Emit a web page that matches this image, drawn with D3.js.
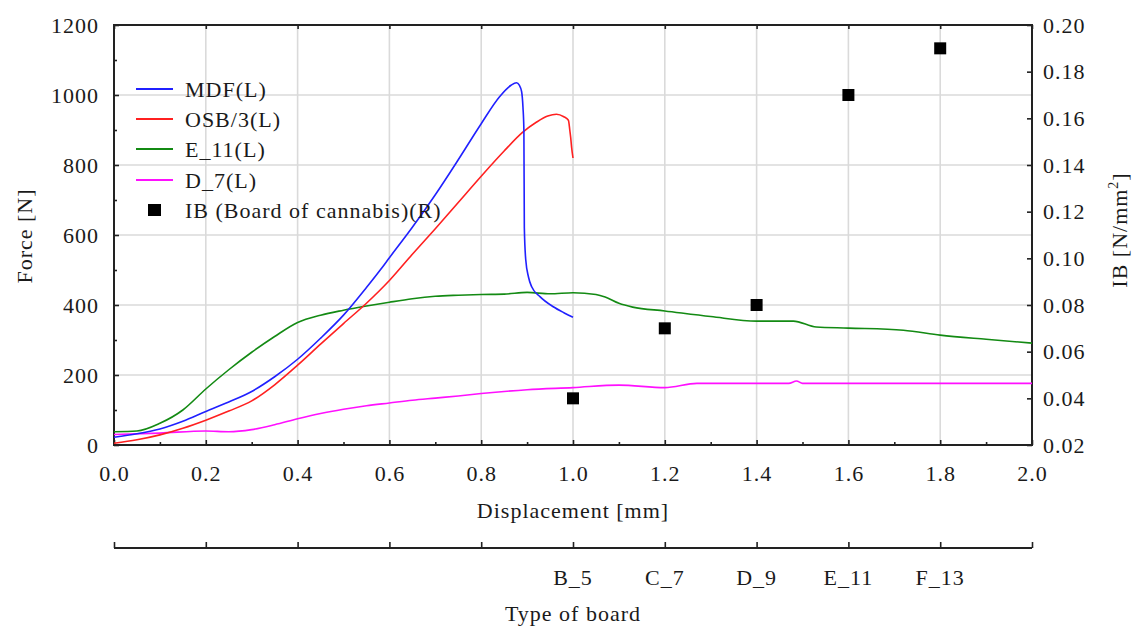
<!DOCTYPE html>
<html>
<head>
<meta charset="utf-8">
<script src="https://cdnjs.cloudflare.com/ajax/libs/d3/7.8.5/d3.min.js"></script>
<style>
  body { margin: 0; background: #fff; }
  svg text { font-family: "Liberation Serif", "Times New Roman", serif; fill: #1a1a1a; }
</style>
</head>
<body>
<div id="chart"></div>
<script>
// ---- data: [displacement mm, force N]
var mdf = [[0,22],[0.05,32],[0.1,46],[0.15,68],[0.2,96],[0.25,123],[0.3,153],[0.35,195],[0.4,245],[0.45,305],
  [0.5,371],[0.55,450],[0.58,500],[0.6,535],[0.65,622],[0.7,715],[0.75,815],[0.8,918],[0.84,995],[0.865,1028],
  [0.877,1035],[0.883,1028],[0.888,1010],[0.891,965],[0.893,900],[0.894,620],[0.897,530],[0.903,480],
  [0.91,452],[0.928,424],[0.957,395],[0.98,378],[1.0,365]];
var osb = [[0,5],[0.05,15],[0.1,29],[0.15,48],[0.2,71],[0.25,97],[0.3,126],[0.35,172],[0.4,228],[0.45,288],
  [0.5,347],[0.55,405],[0.6,470],[0.65,545],[0.7,618],[0.75,693],[0.8,768],[0.85,840],[0.89,893],[0.92,922],
  [0.945,940],[0.964,945],[0.98,938],[0.99,928],[0.993,900],[0.995,878],[0.997,850],[1.0,820]];
var e11 = [[0,38],[0.05,40],[0.1,62],[0.15,100],[0.2,160],[0.25,215],[0.3,265],[0.35,310],[0.4,350],[0.45,371],
  [0.5,385],[0.55,397],[0.6,408],[0.65,418],[0.7,425],[0.75,428],[0.8,430],[0.85,431],[0.9,436],[0.95,432],
  [1.0,435],[1.05,430],[1.07,423],[1.1,405],[1.13,394],[1.2,383],[1.3,367],[1.4,354],[1.48,354],[1.53,337],
  [1.6,334],[1.72,328],[1.8,314],[1.9,302],[2.0,291]];
var d7 = [[0,30],[0.1,34],[0.2,40],[0.25,38],[0.3,44],[0.35,58],[0.4,75],[0.45,90],[0.5,102],[0.55,112],
  [0.6,120],[0.65,128],[0.7,134],[0.75,140],[0.8,147],[0.85,153],[0.9,158],[1.0,164],[1.1,171],[1.2,164],
  [1.27,176],[1.47,176],[1.487,183],[1.5,176],[2.0,176]];

// IB of cannabis boards (right axis)
var boards = ["B_5", "C_7", "D_9", "E_11", "F_13"];
var boardPos = [1.0, 1.2, 1.4, 1.6, 1.8];
var ib = [0.04, 0.07, 0.08, 0.17, 0.19];

var series = [
  {name: "MDF(L)", data: mdf, color: "#2020ff"},
  {name: "OSB/3(L)", data: osb, color: "#ff2020"},
  {name: "E_11(L)", data: e11, color: "#138a13"},
  {name: "D_7(L)", data: d7, color: "#ff10ff"}
];

var xTicks = d3.range(0, 2.001, 0.2);
var xMinor = d3.range(0.1, 2.0, 0.2);
var yTicks = d3.range(0, 1201, 200);
var yMinor = d3.range(100, 1200, 200);
var y2Ticks = d3.range(0.02, 0.2001, 0.02);

var W = 1134, H = 631;
var pLeft = 114, pRight = 1032, pTop = 25, pBottom = 445;

var svg = d3.select("#chart").append("svg")
  .attr("width", W).attr("height", H);

var x = d3.scaleLinear().domain([0, 2]).range([pLeft, pRight]);
var y = d3.scaleLinear().domain([0, 1200]).range([pBottom, pTop]);
var y2 = d3.scaleLinear().domain([0.02, 0.20]).range([pBottom, pTop]);

// grid
svg.append("g").selectAll("line").data(xTicks.slice(1, -1)).enter().append("line")
  .attr("x1", function(d){ return x(d); }).attr("x2", function(d){ return x(d); })
  .attr("y1", pTop).attr("y2", pBottom)
  .attr("stroke", "#dadada").attr("stroke-width", 1.6);
svg.append("g").selectAll("line").data(yTicks.slice(1, -1)).enter().append("line")
  .attr("x1", pLeft).attr("x2", pRight)
  .attr("y1", function(d){ return y(d); }).attr("y2", function(d){ return y(d); })
  .attr("stroke", "#dadada").attr("stroke-width", 1.6);

function styleAxis(g){
  g.select(".domain").remove();
  g.selectAll("line").attr("stroke", "#222").attr("stroke-width", 1.6);
  g.selectAll("text").attr("font-family", "Liberation Serif, serif")
    .attr("font-size", 22).style("letter-spacing", "1px").attr("fill", "#1a1a1a");
}

// bottom axis
svg.append("g").attr("transform", "translate(0," + pBottom + ")")
  .call(d3.axisBottom(x).tickValues(xTicks).tickFormat(d3.format(".1f")).tickSize(-5).tickPadding(20))
  .call(styleAxis);
svg.append("g").attr("transform", "translate(0," + pBottom + ")")
  .call(d3.axisBottom(x).tickValues(xMinor).tickFormat("").tickSize(-3))
  .call(styleAxis);
// top ticks
svg.append("g").attr("transform", "translate(0," + pTop + ")")
  .call(d3.axisTop(x).tickValues(xTicks).tickFormat("").tickSize(-4))
  .call(styleAxis);

// left axis
svg.append("g").attr("transform", "translate(" + pLeft + ",0)")
  .call(d3.axisLeft(y).tickValues(yTicks).tickFormat(d3.format("d")).tickSize(-5).tickPadding(15))
  .call(styleAxis);
svg.append("g").attr("transform", "translate(" + pLeft + ",0)")
  .call(d3.axisLeft(y).tickValues(yMinor).tickFormat("").tickSize(-3))
  .call(styleAxis);

// right axis
svg.append("g").attr("transform", "translate(" + pRight + ",0)")
  .call(d3.axisRight(y2).tickValues(y2Ticks).tickFormat(d3.format(".2f")).tickSize(-5).tickPadding(11))
  .call(styleAxis);

// frame
svg.append("rect")
  .attr("x", pLeft).attr("y", pTop)
  .attr("width", pRight - pLeft).attr("height", pBottom - pTop)
  .attr("fill", "none").attr("stroke", "#222").attr("stroke-width", 2);

// curves
var line = d3.line()
  .x(function(d){ return x(d[0]); })
  .y(function(d){ return y(d[1]); })
  .curve(d3.curveMonotoneX);

svg.append("g").selectAll("path").data(series.slice().reverse()).enter().append("path")
  .attr("d", function(d){ return line(d.data); })
  .attr("fill", "none")
  .attr("stroke", function(d){ return d.color; })
  .attr("stroke-width", 1.6);

// IB points
svg.append("g").selectAll("rect").data(ib).enter().append("rect")
  .attr("x", function(d, i){ return x(boardPos[i]) - 6; })
  .attr("y", function(d){ return y2(d) - 6; })
  .attr("width", 12).attr("height", 12)
  .attr("fill", "#000");

// axis titles
svg.append("text")
  .attr("x", x(1)).attr("y", 518)
  .attr("text-anchor", "middle")
  .attr("font-size", 22).style("letter-spacing", "1px")
  .text("Displacement [mm]");

svg.append("text")
  .attr("transform", "translate(32,236) rotate(-90)")
  .attr("text-anchor", "middle")
  .attr("font-size", 22).style("letter-spacing", "1px")
  .text("Force [N]");

var rt = svg.append("text")
  .attr("transform", "translate(1127,230) rotate(-90)")
  .attr("text-anchor", "middle")
  .attr("font-size", 22).style("letter-spacing", "1px");
rt.append("tspan").text("IB [N/mm");
rt.append("tspan").attr("font-size", 14).attr("dy", -9).text("2");
rt.append("tspan").attr("dy", 9).text("]");

// board axis
var boardY = 548;
svg.append("line")
  .attr("x1", pLeft).attr("x2", pRight)
  .attr("y1", boardY).attr("y2", boardY)
  .attr("stroke", "#222").attr("stroke-width", 2);
svg.append("g").attr("transform", "translate(0," + boardY + ")")
  .call(d3.axisBottom(x).tickValues(xTicks).tickFormat("").tickSize(-6))
  .call(styleAxis);
svg.append("g").selectAll("text").data(boards).enter().append("text")
  .attr("x", function(d, i){ return x(boardPos[i]); })
  .attr("y", 585)
  .attr("text-anchor", "middle")
  .attr("font-size", 22).style("letter-spacing", "1px")
  .text(function(d){ return d; });

svg.append("text")
  .attr("x", x(1)).attr("y", 621)
  .attr("text-anchor", "middle")
  .attr("font-size", 22).style("letter-spacing", "1px")
  .text("Type of board");

// legend
var legRows = [89, 119, 149, 180];
var legend = svg.append("g");
var lg = legend.selectAll("g").data(series).enter().append("g")
  .attr("transform", function(d, i){ return "translate(0," + legRows[i] + ")"; });
lg.append("line")
  .attr("x1", 136).attr("x2", 173)
  .attr("stroke", function(d){ return d.color; })
  .attr("stroke-width", 1.8);
lg.append("text")
  .attr("x", 185).attr("y", 7.5)
  .attr("font-size", 22).style("letter-spacing", "1px")
  .text(function(d){ return d.name; });

var ibRow = legend.append("g").attr("transform", "translate(0,210)");
ibRow.append("rect")
  .attr("x", 148).attr("y", -6).attr("width", 13).attr("height", 12)
  .attr("fill", "#000");
ibRow.append("text")
  .attr("x", 185).attr("y", 7.5)
  .attr("font-size", 22).style("letter-spacing", "1px")
  .text("IB (Board of cannabis)(R)");
</script>
</body>
</html>
